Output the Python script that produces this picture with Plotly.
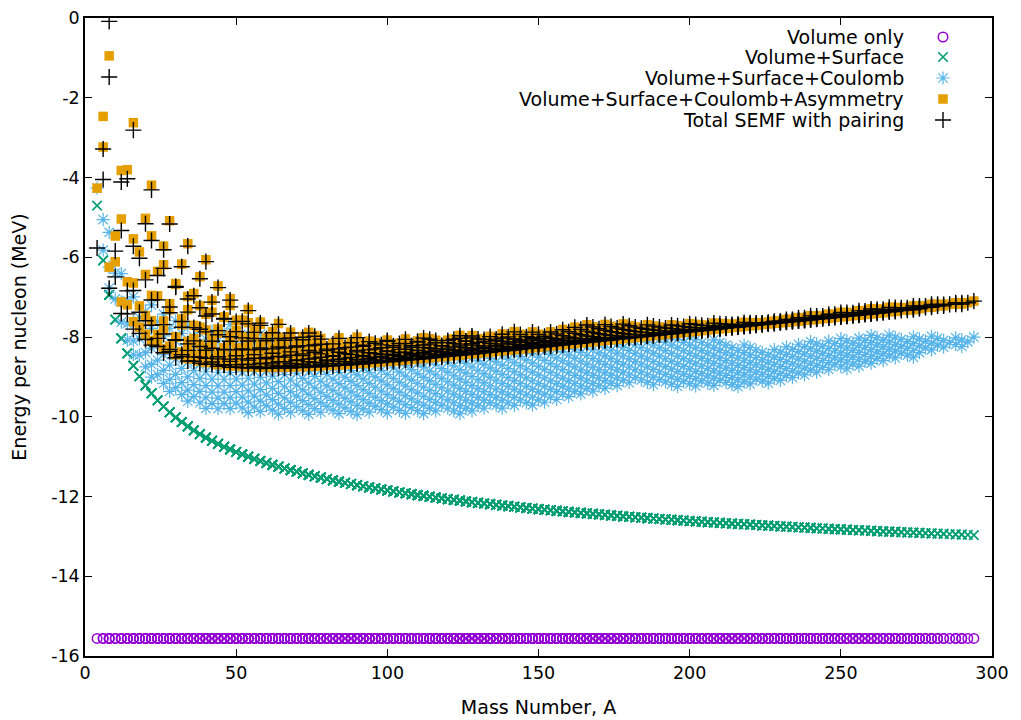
import numpy as np
import plotly.graph_objects as go

# ---------------- data ----------------
# Semi-empirical mass formula coefficients (MeV), read from the chart levels
A_VOLUME = 15.56
A_SURFACE = 17.23
A_COULOMB = 0.697
A_ASYMMETRY = 23.285
A_PAIRING = 12.0

# Even-even nuclide table: for each even element Z, lightest and heaviest mass number
ELEMENT_Z = list(range(2, 119, 2))
ISOTOPE_A_MIN = [4, 6, 8, 12, 16, 20, 22, 26, 30, 34, 38, 42, 46, 48, 54, 58, 64, 68,
                 72, 76, 84, 88, 92, 96, 100, 106, 110, 114, 120, 124, 128, 134, 138,
                 142, 148, 154, 158, 162, 166, 172, 178, 186, 194, 200, 208, 218, 228,
                 232, 236, 240, 246, 250, 256, 260, 266, 274, 280, 288, 294]
ISOTOPE_A_MAX = [8, 16, 22, 28, 34, 40, 44, 48, 54, 58, 64, 68, 74, 78, 84, 90, 94,
                 100, 106, 112, 116, 124, 128, 132, 138, 142, 148, 152, 156, 160, 164,
                 168, 172, 176, 180, 188, 196, 202, 208, 216, 220, 226, 230, 234, 238,
                 242, 246, 252, 256, 260, 264, 268, 274, 276, 280, 284, 290, 292, 294]

# Axis ticks
X_TICKS = [0, 50, 100, 150, 200, 250, 300]
Y_TICKS = [0, -2, -4, -6, -8, -10, -12, -14, -16]
Y_TICK_TEXT = ["0", "-2", "-4", "-6", "-8", "-10", "-12", "-14", "-16"]

SERIES_NAMES = ["Volume only", "Volume+Surface", "Volume+Surface+Coulomb",
                "Volume+Surface+Coulomb+Asymmetry", "Total SEMF with pairing"]

# ---------------- build nuclides ----------------
pairs = []
for z, amin, amax in zip(ELEMENT_Z, ISOTOPE_A_MIN, ISOTOPE_A_MAX):
    for a in range(amin, amax + 1, 2):
        pairs.append((a, z))
pairs.sort()
A = np.array([p[0] for p in pairs], dtype=float)
Z = np.array([p[1] for p in pairs], dtype=float)
N = A - Z

vol = -A_VOLUME * A
surf = A_SURFACE * A ** (2 / 3)
coul = A_COULOMB * Z ** 2 / A ** (1 / 3)
asym = A_ASYMMETRY * (A - 2 * Z) ** 2 / A
sign = np.where((Z % 2 == 0) & (N % 2 == 0), -1.0,
                np.where((Z % 2 == 1) & (N % 2 == 1), 1.0, 0.0))
pair = sign * A_PAIRING / np.sqrt(A)

e_vol = vol / A
e_vs = (vol + surf) / A
e_vsc = (vol + surf + coul) / A
e_vsca = (vol + surf + coul + asym) / A
e_tot = (vol + surf + coul + asym + pair) / A

styles = [
    dict(symbol="circle-open", size=9.5, color="#9400D3", line=dict(width=1.5, color="#9400D3")),
    dict(symbol="x-thin-open", size=9.5, color="#009E73", line=dict(width=1.6, color="#009E73")),
    dict(symbol="asterisk-open", size=11, color="#56B4E9", line=dict(width=1.2, color="#56B4E9")),
    dict(symbol="square", size=9.5, color="#E69F00", line=dict(width=0)),
    dict(symbol="cross-thin-open", size=11.5, color="#000000", line=dict(width=1.4, color="#000000")),
]
series = [e_vol, e_vs, e_vsc, e_vsca, e_tot]

fig = go.Figure()
for name, ys, st in zip(SERIES_NAMES, series, styles):
    fig.add_trace(go.Scatter(x=A, y=ys, mode="markers", name=name, marker=st,
                             showlegend=False, hoverinfo="skip"))

# gnuplot-style key: text right-aligned, sample symbol to the right
KEY_Y = [37, 57, 78, 99, 120]
for name, ky, st in zip(SERIES_NAMES, KEY_Y, styles):
    fig.add_trace(go.Scatter(x=[943], y=[ky], mode="markers", marker=st, xaxis="x2",
                             yaxis="y2", showlegend=False, hoverinfo="skip"))
    fig.add_annotation(x=906, y=ky, xref="x2", yref="y2", text=name, showarrow=False,
                       xanchor="right", yanchor="middle",
                       font=dict(family="DejaVu Sans", size=19, color="black"))

axis_common = dict(showline=True, linecolor="black", linewidth=1.5, mirror="ticks",
                   ticks="inside", ticklen=7, tickwidth=1, tickcolor="black",
                   showgrid=False, zeroline=False, automargin=False,
                   tickfont=dict(family="DejaVu Sans", size=17.5, color="black"))

fig.update_layout(
    template="none",
    width=1021, height=720,
    margin=dict(l=85, r=29, t=18, b=64),
    plot_bgcolor="white", paper_bgcolor="white",
    font=dict(family="DejaVu Sans", size=17.5, color="black"),
    xaxis=dict(range=[0, 300], tickvals=X_TICKS,
               title=dict(text="Mass Number, A", standoff=19,
                          font=dict(family="DejaVu Sans", size=19)), **axis_common),
    yaxis=dict(range=[-16, 0], tickvals=Y_TICKS, ticktext=Y_TICK_TEXT,
               title=dict(text="Energy per nucleon (MeV)", standoff=20,
                          font=dict(family="DejaVu Sans", size=19)), **axis_common),
    xaxis2=dict(overlaying="x", range=[85, 992], visible=False),
    yaxis2=dict(overlaying="y", range=[656, 18], visible=False),
)

fig.write_html("out.html")
